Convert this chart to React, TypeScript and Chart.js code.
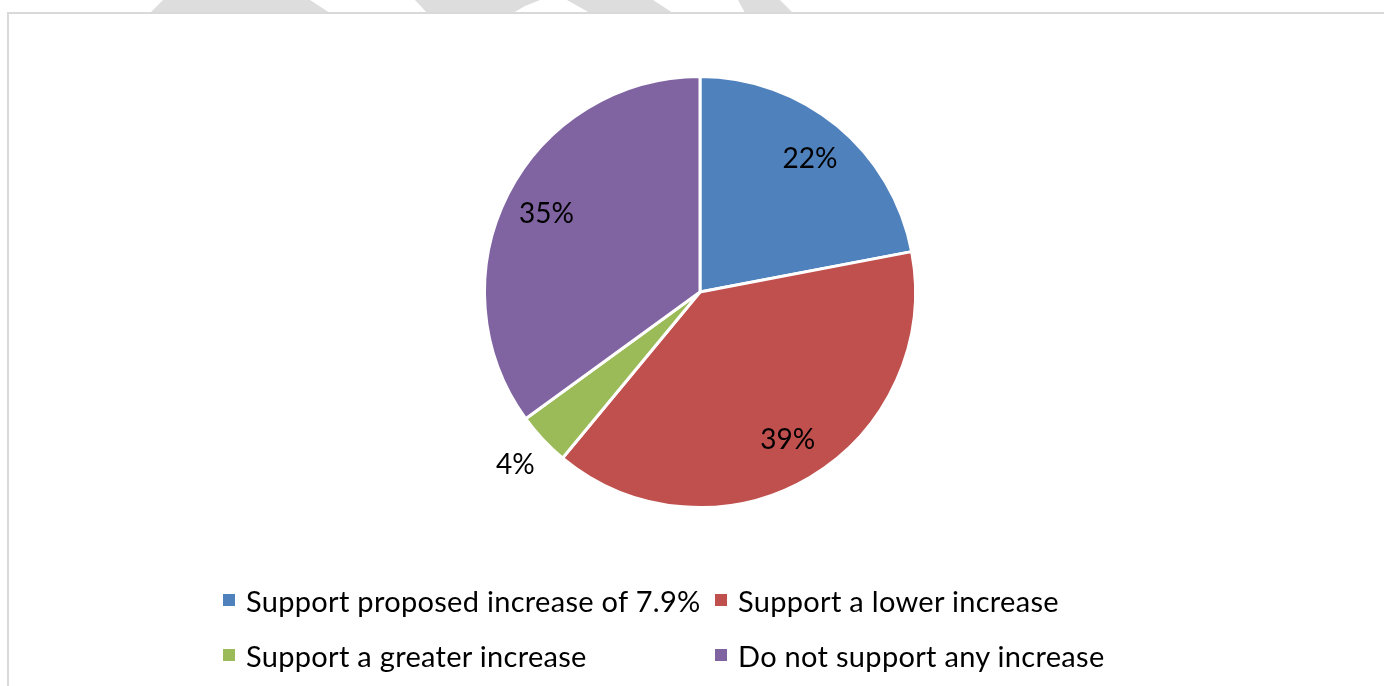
import React, { useEffect, useRef } from "react";
import { Chart, registerables } from "chart.js";

Chart.register(...registerables);

const categories = [
  "Support proposed increase of 7.9%",
  "Support a lower increase",
  "Support a greater increase",
  "Do not support any increase",
];
const values = [22, 39, 4, 35];
const valueLabels = ["22%", "39%", "4%", "35%"];
const colors = ["#4F81BD", "#C0504D", "#9BBB59", "#8064A2"];
const labelInside = [true, true, false, true];

const FONT = "Lato, 'Open Sans', sans-serif";

const labelPlugin = {
  id: "sliceLabels",
  afterDatasetsDraw(chart: any) {
    const ctx = chart.ctx;
    const meta = chart.getDatasetMeta(0);
    ctx.save();
    ctx.fillStyle = "#000000";
    ctx.font = `28px ${FONT}`;
    ctx.textAlign = "center";
    ctx.textBaseline = "middle";
    meta.data.forEach((arc: any, i: number) => {
      const { x, y, startAngle, endAngle, outerRadius } = arc.getProps(
        ["x", "y", "startAngle", "endAngle", "outerRadius"],
        true
      );
      const mid = (startAngle + endAngle) / 2;
      const d = labelInside[i] ? outerRadius * 0.8 : outerRadius * 1.175;
      ctx.fillText(valueLabels[i], x + Math.cos(mid) * d, y + Math.sin(mid) * d);
    });
    ctx.restore();
  },
};

function Legend() {
  const cols = [223, 715];
  const rows = [600, 655];
  return (
    <>
      {categories.map((c, i) => {
        const left = cols[i % 2];
        const top = rows[Math.floor(i / 2)];
        return (
          <div
            key={c}
            style={{
              position: "absolute",
              left,
              top: top - 20,
              height: 40,
              display: "flex",
              alignItems: "center",
              whiteSpace: "nowrap",
              fontFamily: FONT,
              fontSize: 29,
              letterSpacing: 0.3,
              color: "#000",
            }}
          >
            <span
              style={{
                display: "inline-block",
                width: 12,
                height: 12,
                background: colors[i],
                marginRight: 11,
              }}
            />
            <span>{c}</span>
          </div>
        );
      })}
    </>
  );
}

export default function App() {
  const ref = useRef<HTMLCanvasElement | null>(null);
  useEffect(() => {
    if (!ref.current) return;
    const chart = new Chart(ref.current, {
      type: "pie",
      data: {
        labels: categories,
        datasets: [
          {
            data: values,
            backgroundColor: colors,
            borderColor: "#FFFFFF",
            borderWidth: 3,
            radius: 215.5,
          } as any,
        ],
      },
      options: {
        responsive: false,
        animation: false,
        events: [],
        layout: { padding: { left: 16, right: 0, top: 0, bottom: 102 } },
        plugins: {
          legend: { display: false },
          tooltip: { enabled: false },
          title: { display: false },
        },
      },
      plugins: [labelPlugin],
    });
    return () => chart.destroy();
  }, []);

  return (
    <div
      style={{
        position: "fixed",
        left: 0,
        top: 0,
        width: 1384,
        height: 686,
        background: "#FFFFFF",
        overflow: "hidden",
      }}
    >
      <svg
        width={1384}
        height={14}
        style={{ position: "absolute", left: 0, top: 0 }}
      >
        <polygon points="163,0 310,0 330,13 150,13" fill="#DDDDDD" />
        <polygon points="415,0 540,0 525,6 513,13 427,13" fill="#DDDDDD" />
        <polygon points="567,0 653,0 673,13 590,13" fill="#DDDDDD" />
        <polygon points="738,0 780,0 793,13 745,13" fill="#DDDDDD" />
      </svg>
      <div
        style={{
          position: "absolute",
          left: 7,
          top: 12,
          width: 1400,
          height: 700,
          borderTop: "2px solid #D9D9D9",
          borderLeft: "2px solid #D9D9D9",
          background: "#FFFFFF",
        }}
      />
      <canvas
        ref={ref}
        width={1384}
        height={686}
        style={{ position: "absolute", left: 0, top: 0 }}
      />
      <Legend />
    </div>
  );
}
